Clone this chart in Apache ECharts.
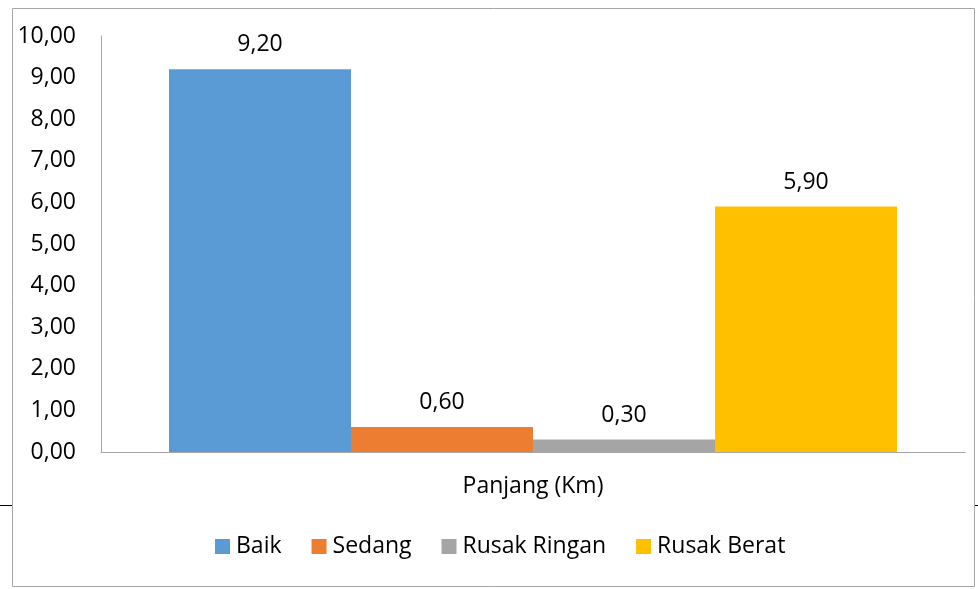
<!DOCTYPE html>
<html>
<head>
<meta charset="utf-8">
<script src="https://cdn.jsdelivr.net/npm/echarts@6/dist/echarts.min.js"></script>
<style>html,body{margin:0;padding:0;background:#fff}#c{width:978px;height:589px}</style>
</head>
<body>
<div id="c"></div>
<script>
const categories = ['Panjang (Km)'];
const seriesNames = ['Baik', 'Sedang', 'Rusak Ringan', 'Rusak Berat'];
const seriesValues = [[9.2], [0.6], [0.3], [5.9]];
const colors = ['#5B9BD5', '#ED7D31', '#A5A5A5', '#FFC000'];
const yTicks = [0, 10, 1];

const FONT = 'Open Sans';
const FS = 23;
const fmt = v => Number(v).toFixed(2).replace('.', ',');

const chart = echarts.init(document.getElementById('c'), null, {renderer: 'canvas'});
chart.setOption({
  animation: false,
  textStyle: {fontFamily: FONT},
  graphic: [
    {type: 'rect', shape: {x: 12.5, y: 8.5, width: 962, height: 578}, style: {fill: 'none', stroke: '#a6a6a6', lineWidth: 1}, z: -1},
    {type: 'line', shape: {x1: 0, y1: 505.5, x2: 12, y2: 505.5}, style: {stroke: '#000', lineWidth: 1}},
    {type: 'line', shape: {x1: 975, y1: 505.5, x2: 978, y2: 505.5}, style: {stroke: '#000', lineWidth: 1}}
  ],
  grid: {left: 101, right: 13, top: 36, bottom: 137, containLabel: false},
  legend: {
    left: 210, top: 530,
    itemWidth: 15, itemHeight: 15, itemGap: 30,
    icon: 'rect',
    textStyle: {fontFamily: FONT, fontSize: FS, color: '#000', padding: [0, 0, 0, 1]},
    data: seriesNames
  },
  xAxis: {
    type: 'category',
    data: categories,
    axisLine: {show: true, lineStyle: {color: '#a6a6a6', width: 1}},
    axisTick: {show: false},
    axisLabel: {fontFamily: FONT, fontSize: FS, color: '#000', margin: 23}
  },
  yAxis: {
    type: 'value',
    min: yTicks[0], max: yTicks[1], interval: yTicks[2],
    axisLine: {show: true, lineStyle: {color: '#a6a6a6', width: 1}},
    axisTick: {show: false},
    splitLine: {show: false},
    axisLabel: {fontFamily: FONT, fontSize: FS, color: '#000', margin: 25, formatter: fmt}
  },
  series: seriesNames.map((n, i) => ({
    name: n,
    type: 'bar',
    data: seriesValues[i],
    barWidth: 182,
    barGap: '0%',
    itemStyle: {color: colors[i]},
    label: {show: true, position: 'top', distance: 13, fontFamily: FONT, fontSize: FS, color: '#000', formatter: p => fmt(p.value)}
  }))
});
</script>
</body>
</html>
